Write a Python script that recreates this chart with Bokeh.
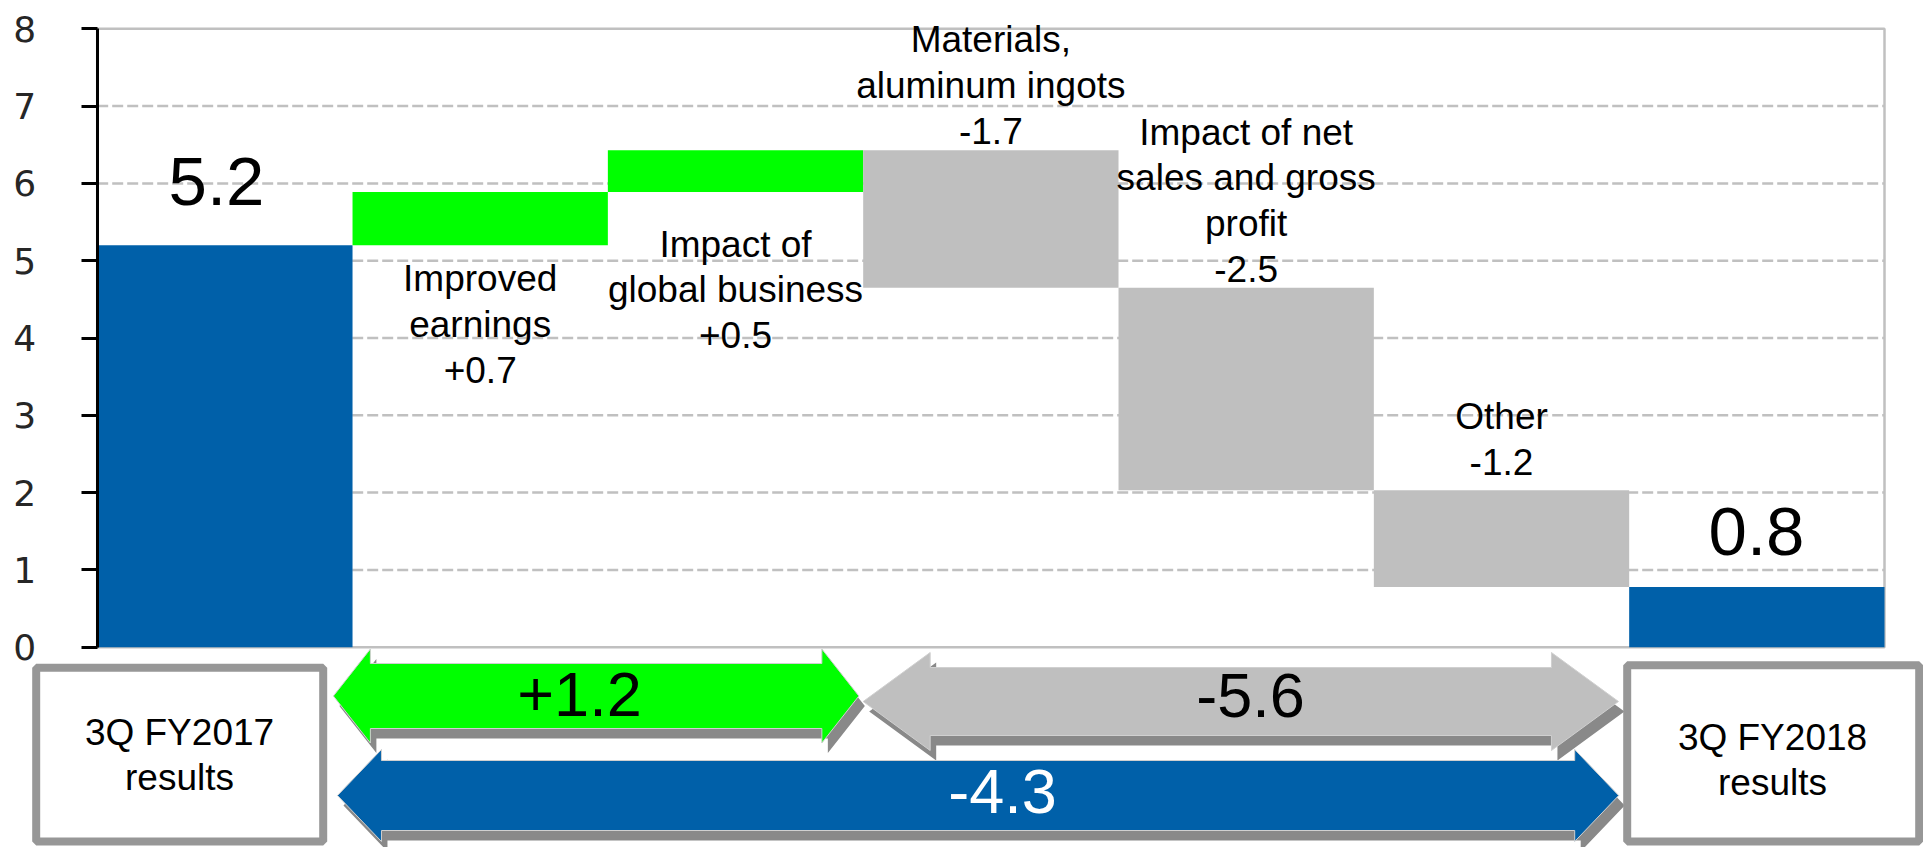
import numpy as np
from bokeh.plotting import figure
from bokeh.models import Range1d, LinearAxis, FixedTicker, ColumnDataSource
from bokeh.core.properties import value
from bokeh.embed import file_html
from bokeh.resources import INLINE

# ---------------- data ----------------
categories = ["3Q FY2017 results", "Improved earnings", "Impact of global business",
              "Materials, aluminum ingots", "Impact of net sales and gross profit",
              "Other", "3Q FY2018 results"]
start_value = 5.2
step_deltas = [0.69, 0.54, -1.78, -2.62, -1.25]
step_labels = ["Improved\nearnings\n+0.7",
               "Impact of\nglobal business\n+0.5",
               "Materials,\naluminum ingots\n-1.7",
               "Impact of net\nsales and gross\nprofit\n-2.5",
               "Other\n-1.2"]
total_labels = ["5.2", "0.8"]
summary_labels = ["+1.2", "-5.6", "-4.3"]
box_labels = ["3Q FY2017\nresults", "3Q FY2018\nresults"]
y_ticks = [0, 1, 2, 3, 4, 5, 6, 7, 8]

# ---------------- colours ----------------
BLUE = "#0060A9"
GREEN = "#00FF00"
GREY = "#BFBFBF"
GRID = "#C0C0C0"
SHADOW = "#898989"
BOXLINE = "#979797"

# ---------------- layout (screen geometry) ----------------
W, H = 1923, 847
FL, FR, FT, FB = 96.7, 1884.0, 28.3, 646.7      # chart area in pixels
n = len(categories)
ymax = y_ticks[-1]
ux = (FR - FL) / n
uy = (FB - FT) / ymax
BASE_SHIFT = 26.0   # alphabetic baseline correction (px)


def X(px):
    return (px - FL) / ux


def Y(py):
    return (FB - py) / uy


def YB(py):
    return Y(py - BASE_SHIFT)


# ---------------- waterfall computation ----------------
levels = start_value + np.cumsum(step_deltas)
prev = np.concatenate([[start_value], levels[:-1]])
end_value = levels[-1]

bar_left = np.arange(n, dtype=float)
bar_right = bar_left + 1.0
bar_bottom = np.concatenate([[0.0], np.minimum(prev, levels), [0.0]])
bar_top = np.concatenate([[start_value], np.maximum(prev, levels), [end_value]])
bar_color = [BLUE] + [GREEN if d > 0 else GREY for d in step_deltas] + [BLUE]

p = figure(width=W, height=H,
           x_range=Range1d(-FL / ux, n + (W - FR) / ux),
           y_range=Range1d(-(H - FB) / uy, ymax + FT / uy),
           x_axis_type=None, y_axis_type=None,
           toolbar_location=None, output_backend="svg",
           min_border=0, min_border_left=0, min_border_right=0,
           min_border_top=0, min_border_bottom=0)
p.outline_line_color = None
p.background_fill_color = "white"
p.border_fill_color = "white"

# grid lines (dashed) and plot-area border
inner = y_ticks[1:-1]
p.segment(x0=[0] * len(inner), x1=[n] * len(inner), y0=inner, y1=inner,
          line_color=GRID, line_width=2.5, line_dash="11 4")
p.quad(left=[0], right=[n], bottom=[y_ticks[0]], top=[ymax],
       fill_color=None, line_color=GRID, line_width=2.5)

# bars
src = ColumnDataSource(dict(left=bar_left, right=bar_right, bottom=bar_bottom,
                            top=bar_top, color=bar_color))
p.quad(left="left", right="right", bottom="bottom", top="top",
       fill_color="color", line_color=None, source=src)

# step labels
step_x = bar_left[1:-1] + 0.5
step_label_y = [Y(v) for v in [323.7, 289.5, 85.3, 200.4, 439.0]]
p.text(x=step_x, y=step_label_y, text=step_labels,
       text_font=value("Liberation Sans"), text_font_size="37px",
       text_align="center", text_baseline="middle", text_line_height=1.12,
       text_color="black")

# totals labels
p.text(x=[X(216), X(1756)], y=[YB(207), YB(556.7)], text=total_labels,
       text_font=value("Liberation Sans"), text_font_size="69px",
       text_align="center", text_baseline="alphabetic", text_color="black")

# y axis
yaxis = LinearAxis(fixed_location=0, bounds=(0, ymax),
                   ticker=FixedTicker(ticks=y_ticks),
                   axis_line_width=3, axis_line_color="black",
                   major_tick_line_width=3, major_tick_line_color="black",
                   major_tick_out=16, major_tick_in=0,
                   minor_tick_line_color=None,
                   major_label_standoff=45,
                   major_label_text_font="DejaVu Sans",
                   major_label_text_font_size="36px",
                   major_label_text_color="#262626")
p.add_layout(yaxis, "left")

# ---------------- bottom: double arrows + result boxes ----------------
arrow_x0 = [1 - 0.075, 3.0, 1 - 0.059]
arrow_x1 = [3 - 0.017, 6 - 0.042, 6 - 0.041]
arrow_yc = [695.5, 701.0, 795.0]
arrow_shaft = [32.5, 34.0, 35.0]
arrow_head = [47.0, 49.0, 46.0]
arrow_hlen = [37.0, 67.0, 44.0]
arrow_color = [GREEN, GREY, BLUE]


def double_arrow(x0, x1, yc_px, sh_px, hh_px, hl_px, dx_px=0.0, dy_px=0.0):
    hl = hl_px / ux
    dx = dx_px / ux
    yc = Y(yc_px + dy_px)
    sh = sh_px / uy
    hh = hh_px / uy
    xs = [x0, x0 + hl, x0 + hl, x1 - hl, x1 - hl, x1, x1 - hl, x1 - hl, x0 + hl, x0 + hl]
    ys = [yc, yc + hh, yc + sh, yc + sh, yc + hh, yc, yc - hh, yc - sh, yc - sh, yc - hh]
    return [x + dx for x in xs], ys


sh_xs, sh_ys, ar_xs, ar_ys = [], [], [], []
for i in range(len(arrow_x0)):
    a = double_arrow(arrow_x0[i], arrow_x1[i], arrow_yc[i], arrow_shaft[i],
                     arrow_head[i], arrow_hlen[i], 6, 10)
    sh_xs.append(a[0]); sh_ys.append(a[1])
    b = double_arrow(arrow_x0[i], arrow_x1[i], arrow_yc[i], arrow_shaft[i],
                     arrow_head[i], arrow_hlen[i])
    ar_xs.append(b[0]); ar_ys.append(b[1])

p.patches(xs=sh_xs, ys=sh_ys, fill_color=SHADOW, line_color=None)
p.patches(xs=ar_xs, ys=ar_ys, fill_color=arrow_color, line_color="#D0D0D0",
          line_width=1)

p.text(x=[X(579), X(1250), X(1002)], y=[YB(720), YB(721), YB(817.3)],
       text=summary_labels, text_font=value("Liberation Sans"),
       text_font_size="63px", text_align="center", text_baseline="alphabetic",
       text_color=["black", "black", "white"])

# result boxes
p.quad(left=[X(35.7), X(1626.7)], right=[X(322.7), X(1918.7)],
       top=[Y(667.3), Y(664.7)], bottom=[Y(841), Y(841)],
       fill_color="white", line_color=BOXLINE, line_width=8)
p.text(x=[X(179), X(1772)], y=[Y(754.5), Y(759.5)], text=box_labels,
       text_font=value("Liberation Sans"), text_font_size="37px",
       text_align="center", text_baseline="middle", text_line_height=1.12,
       text_color="black")

open("out.html", "w").write(file_html(p, INLINE))
